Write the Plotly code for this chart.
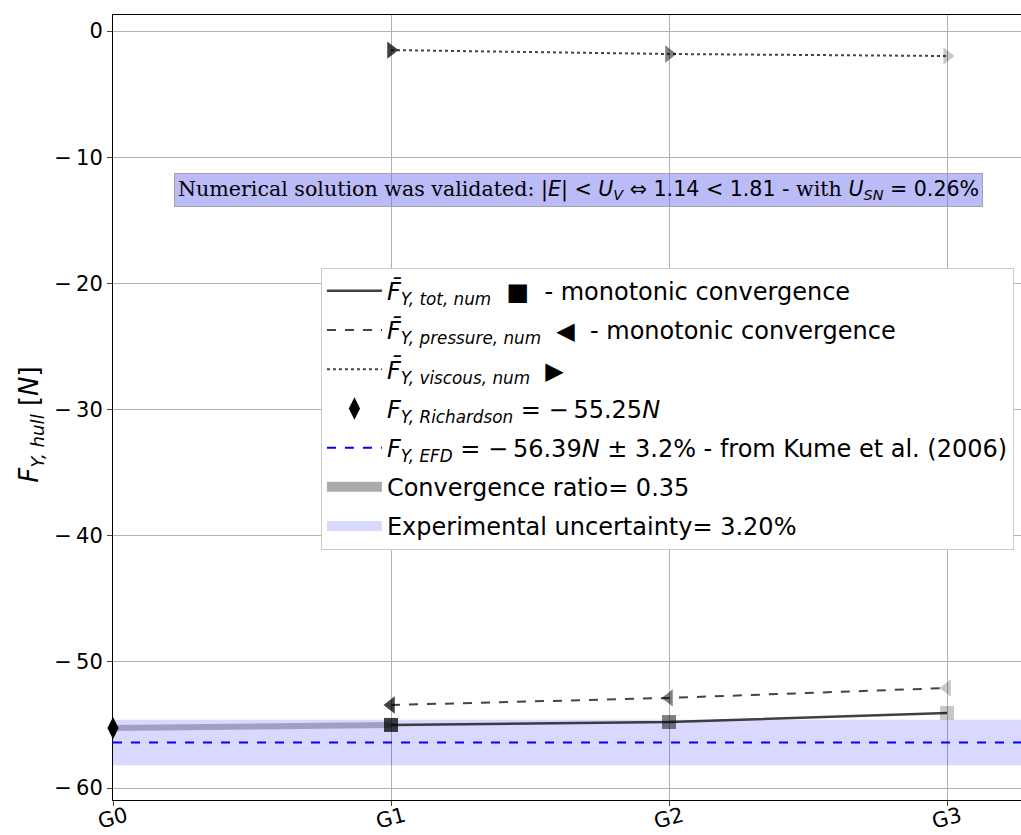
import plotly.graph_objects as go

# Grid levels and force values
grids = ["G0", "G1", "G2", "G3"]
grid_pos = [0, 1, 2, 3]
num_pos = [1, 2, 3]
fy_tot = [-55.0, -54.77, -54.05]
fy_pressure = [-53.42, -52.86, -52.07]
fy_viscous = [-1.51, -1.82, -1.98]
marker_alpha = [0.75, 0.5, 0.22]
fy_richardson = -55.25
fy_efd = -56.39
efd_uncertainty = 3.2  # percent
convergence_ratio = 0.35
y_ticks = [0, -10, -20, -30, -40, -50, -60]
x_range = [0, 3.266]
y_range = [-60.95, 1.27]

band_lo = fy_efd * (1 + efd_uncertainty / 100)
band_hi = fy_efd * (1 - efd_uncertainty / 100)

FONT = "DejaVu Sans"
fig = go.Figure()


def rgba(a, base=(0, 0, 0)):
    return "rgba(%d,%d,%d,%.2f)" % (base[0], base[1], base[2], a)


def tick_label(v):
    return "0" if v == 0 else "\u2212" + "\u2009" + str(abs(v))


# uncertainty band (drawn in the plot)
fig.add_trace(go.Scatter(
    x=[x_range[0], x_range[1] + 1, x_range[1] + 1, x_range[0]],
    y=[band_lo, band_lo, band_hi, band_hi],
    fill="toself", fillcolor="rgba(0,0,255,0.15)", mode="none",
    showlegend=False, hoverinfo="skip",
))

# extrapolation link from Richardson value to finest grid
fig.add_trace(go.Scatter(
    x=[grid_pos[0], num_pos[0]], y=[fy_richardson, fy_tot[0]],
    mode="lines", line=dict(color="rgba(80,80,120,0.42)", width=6),
    showlegend=False, hoverinfo="skip",
))

# total force
fig.add_trace(go.Scatter(
    x=num_pos, y=fy_tot, mode="lines",
    line=dict(color="rgba(30,30,30,0.85)", width=2.5),
    name="<i>F̄</i><sub><i>Y, tot, num</i></sub>  ■  - monotonic convergence",
    legendrank=1, legendgroup="g1",
))
fig.add_trace(go.Scatter(
    x=num_pos, y=fy_tot, mode="markers",
    marker=dict(symbol="square", size=14, color=[rgba(a) for a in marker_alpha]),
    showlegend=False,
))

# pressure force
fig.add_trace(go.Scatter(
    x=num_pos, y=fy_pressure, mode="lines",
    line=dict(color="#444444", width=2, dash="dash"),
    name="<i>F̄</i><sub><i>Y, pressure, num</i></sub>  ◀  - monotonic convergence",
    legendrank=2, legendgroup="g2",
))
fig.add_trace(go.Scatter(
    x=num_pos, y=fy_pressure, mode="markers",
    marker=dict(symbol="triangle-left", size=15, color=[rgba(a) for a in marker_alpha]),
    showlegend=False,
))

# viscous force
fig.add_trace(go.Scatter(
    x=num_pos, y=fy_viscous, mode="lines",
    line=dict(color="#444444", width=2, dash="dot"),
    name="<i>F̄</i><sub><i>Y, viscous, num</i></sub>  ▶",
    legendrank=3, legendgroup="g3",
))
fig.add_trace(go.Scatter(
    x=num_pos, y=fy_viscous, mode="markers",
    marker=dict(symbol="triangle-right", size=15, color=[rgba(a) for a in marker_alpha]),
    showlegend=False,
))

# Richardson extrapolation
fig.add_trace(go.Scatter(
    x=[grid_pos[0]], y=[fy_richardson], mode="markers",
    marker=dict(symbol="diamond-tall", size=16, color="black"),
    name="<i>F</i><sub><i>Y, Richardson</i></sub> = −\u200955.25<i>N</i>",
    legendrank=4, legendgroup="g4", cliponaxis=False,
))

# experimental value
fig.add_trace(go.Scatter(
    x=[x_range[0], x_range[1] + 1], y=[fy_efd, fy_efd], mode="lines",
    line=dict(color="blue", width=2, dash="dash"),
    name="<i>F</i><sub><i>Y, EFD</i></sub> = −\u200956.39<i>N</i> ± 3.2% - from Kume et al. (2006)",
    legendrank=5, legendgroup="g5",
))

# legend patches
fig.add_trace(go.Scatter(
    x=[None], y=[None], mode="lines", line=dict(color="#aaaaaa", width=16),
    name="Convergence ratio= %.2f" % convergence_ratio,
    legendrank=6, legendgroup="g6",
))
fig.add_trace(go.Scatter(
    x=[None], y=[None], mode="lines", line=dict(color="rgba(0,0,255,0.15)", width=16),
    name="Experimental uncertainty= %.2f%%" % efd_uncertainty,
    legendrank=7, legendgroup="g7",
))

fig.add_annotation(
    x=1.676, y=-12.6, xref="x", yref="y", showarrow=False,
    text=("<span style='font-family:DejaVu Serif'>Numerical solution was validated: </span>"
          "|<i>E</i>| &lt; <i>U</i><sub><i>V</i></sub> ⇔ 1.14 &lt; 1.81 - "
          "<span style='font-family:DejaVu Serif'>with </span>"
          "<i>U</i><sub><i>SN</i></sub> = 0.26%"),
    font=dict(family=FONT, size=20.6, color="black"),
    bgcolor="rgba(120,120,240,0.5)", bordercolor="rgba(150,150,150,0.8)",
    borderwidth=1, borderpad=3,
)

# rotated grid labels, centred under each tick
for pos, lab in zip(grid_pos, grids):
    fig.add_annotation(
        x=pos, y=0, xref="x", yref="paper", yanchor="middle", yshift=-18,
        text=lab, showarrow=False, textangle=-15, borderpad=0,
        font=dict(family=FONT, size=21, color="black"),
    )

# y-axis label
fig.add_annotation(
    x=0, y=0.478, xref="paper", yref="paper", xanchor="center", yanchor="middle",
    xshift=-82, text="<i>F</i><sub><i>Y, hull</i></sub> [<i>N</i>]",
    showarrow=False, textangle=-90,
    font=dict(family=FONT, size=26, color="black"),
)

fig.update_layout(
    width=1021, height=835,
    margin=dict(l=113, r=0, t=15, b=35),
    paper_bgcolor="white", plot_bgcolor="white",
    font=dict(family=FONT, size=20, color="black"),
    showlegend=True,
    legend=dict(
        x=0.229, y=0.678, xanchor="left", yanchor="top",
        bgcolor="white", bordercolor="#cccccc", borderwidth=1,
        font=dict(family=FONT, size=24), tracegroupgap=5,
        traceorder="grouped", itemwidth=55,
    ),
    xaxis=dict(
        range=x_range, tickmode="array", tickvals=grid_pos, showticklabels=False,
        showgrid=True, gridcolor="#b0b0b0", gridwidth=1, automargin=False,
        showline=True, linecolor="black", linewidth=1, mirror=True,
        ticks="outside", ticklen=5, zeroline=False,
    ),
    yaxis=dict(
        range=y_range, tickmode="array", tickvals=y_ticks,
        ticktext=[tick_label(v) for v in y_ticks], automargin=False,
        showgrid=True, gridcolor="#b0b0b0", gridwidth=1,
        showline=True, linecolor="black", linewidth=1, mirror=True,
        ticks="outside", ticklen=5, tickfont=dict(size=21), zeroline=False,
    ),
)

fig.write_html("out.html")
